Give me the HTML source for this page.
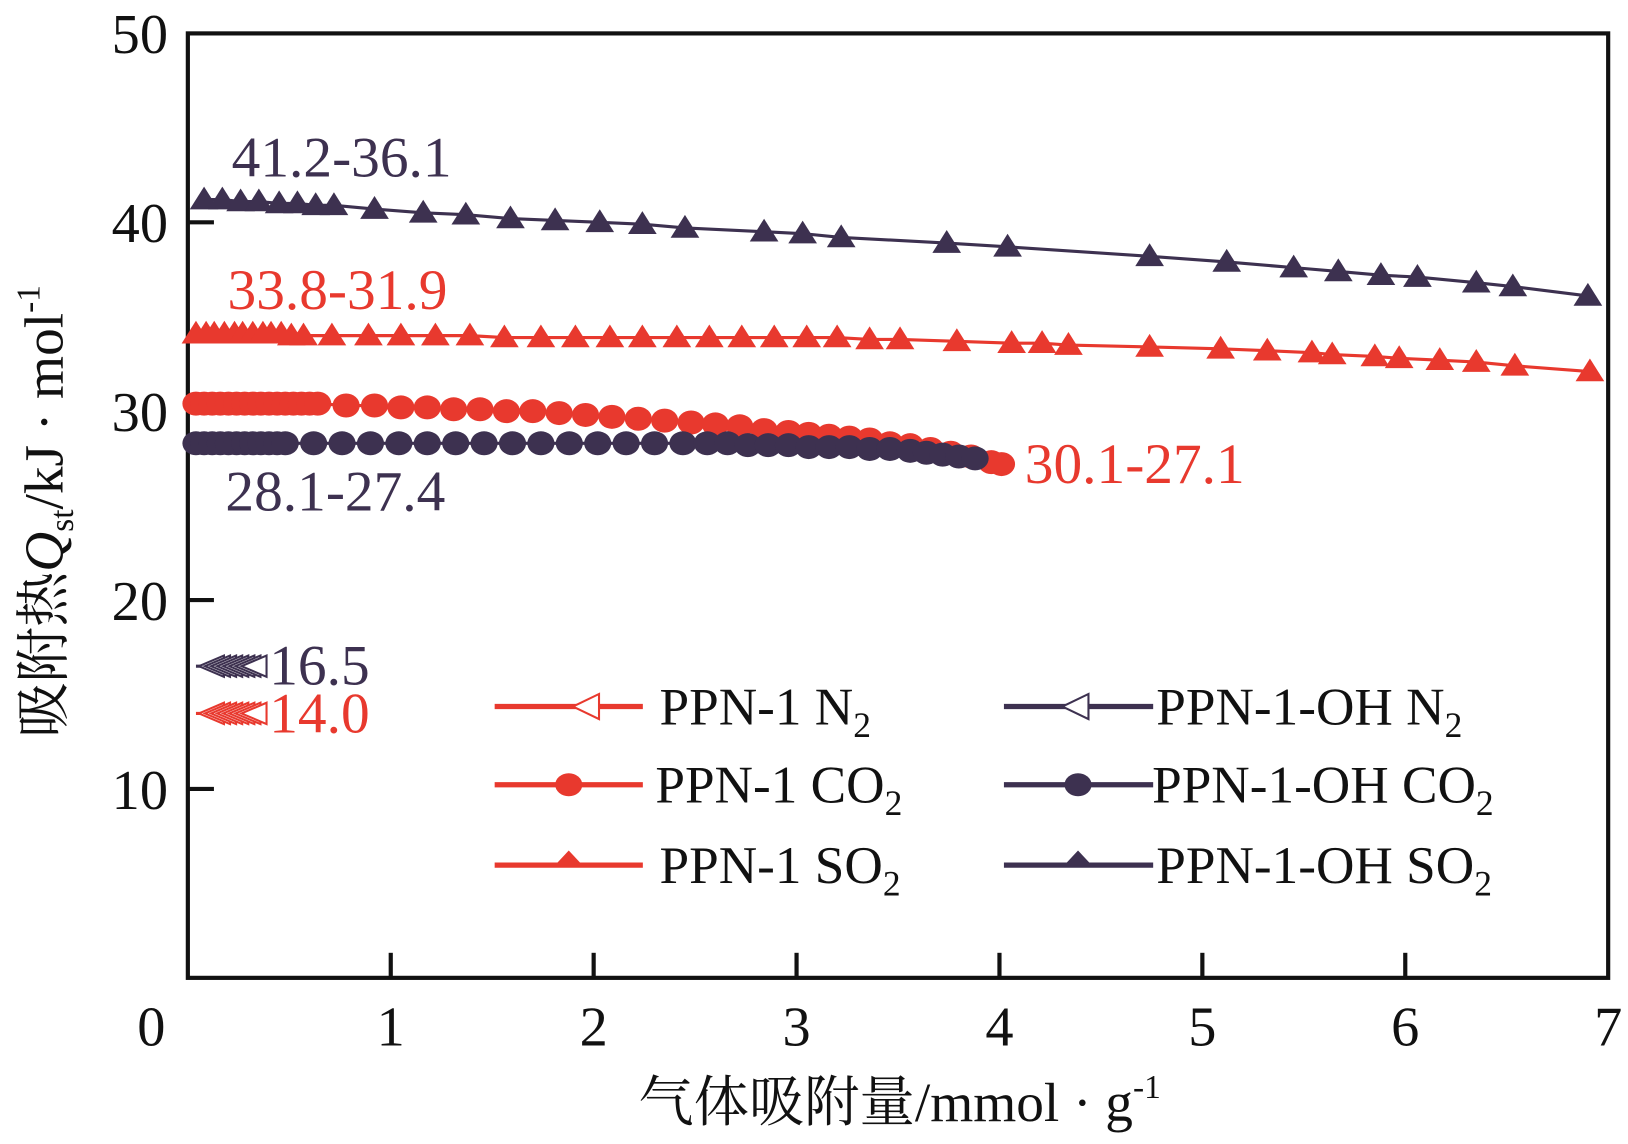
<!DOCTYPE html>
<html><head><meta charset="utf-8"><style>
html,body{margin:0;padding:0;background:#fff;}
svg{display:block;font-family:"Liberation Serif","Noto Serif CJK SC",serif;}
</style></head><body>
<svg id="chart" width="1628" height="1144" viewBox="0 0 1560 1096.2"></svg>
<script>
const xTicks=[0,1,2,3,4,5,6,7];
const yTicks=[10,20,30,40,50];
const so2OhX=[0.08,0.17,0.26,0.35,0.45,0.54,0.63,0.72,0.92,1.16,1.37,1.59,1.81,2.03,2.24,2.45,2.84,3.03,3.22,3.74,4.04,4.74,5.12,5.45,5.67,5.88,6.06,6.35,6.53,6.90];
const so2OhY=[41.2,41.2,41.1,41.1,41.0,41.0,40.9,40.9,40.7,40.5,40.4,40.2,40.1,40.0,39.9,39.7,39.5,39.4,39.2,38.9,38.7,38.2,37.9,37.6,37.4,37.2,37.1,36.8,36.6,36.1];
const so2X=[0.04,0.09,0.13,0.18,0.23,0.27,0.32,0.37,0.41,0.46,0.51,0.57,0.71,0.89,1.05,1.22,1.39,1.56,1.74,1.91,2.08,2.24,2.41,2.57,2.73,2.89,3.05,3.20,3.36,3.51,3.79,4.06,4.21,4.34,4.74,5.09,5.32,5.54,5.64,5.85,5.97,6.17,6.35,6.54,6.91];
const so2Y=[34.1,34.1,34.1,34.1,34.1,34.1,34.1,34.1,34.1,34.1,34.0,34.0,34.0,34.0,34.0,34.0,34.0,33.9,33.9,33.9,33.9,33.9,33.9,33.9,33.9,33.9,33.9,33.9,33.8,33.8,33.7,33.6,33.6,33.5,33.4,33.3,33.2,33.1,33.0,32.9,32.8,32.7,32.6,32.4,32.1];
const co2X=[0.04,0.08,0.12,0.16,0.20,0.24,0.28,0.32,0.36,0.40,0.44,0.48,0.52,0.56,0.60,0.64,0.78,0.92,1.05,1.18,1.31,1.44,1.57,1.70,1.83,1.96,2.09,2.22,2.35,2.48,2.60,2.72,2.84,2.96,3.06,3.16,3.26,3.36,3.46,3.56,3.66,3.76,3.86,3.96,4.01];
const co2Y=[30.4,30.4,30.4,30.4,30.4,30.4,30.4,30.4,30.4,30.4,30.4,30.4,30.4,30.4,30.4,30.4,30.3,30.3,30.2,30.2,30.1,30.1,30.0,30.0,29.9,29.8,29.7,29.6,29.5,29.4,29.3,29.2,29.0,28.9,28.8,28.7,28.6,28.5,28.3,28.2,28.0,27.8,27.6,27.3,27.2];
const co2OhX=[0.04,0.08,0.12,0.16,0.20,0.24,0.28,0.32,0.36,0.40,0.44,0.48,0.62,0.76,0.90,1.04,1.18,1.32,1.46,1.60,1.74,1.88,2.02,2.16,2.30,2.44,2.56,2.66,2.76,2.86,2.96,3.06,3.16,3.26,3.36,3.46,3.56,3.64,3.72,3.80,3.88];
const co2OhY=[28.3,28.3,28.3,28.3,28.3,28.3,28.3,28.3,28.3,28.3,28.3,28.3,28.3,28.3,28.3,28.3,28.3,28.3,28.3,28.3,28.3,28.3,28.3,28.3,28.3,28.3,28.3,28.3,28.2,28.2,28.2,28.1,28.1,28.1,28.0,28.0,27.9,27.8,27.7,27.6,27.5];
const n2X=[0.04,0.07,0.10,0.13,0.16,0.19,0.22,0.25];
const n2OhY=[16.5,16.5,16.5,16.5,16.5,16.5,16.5,16.5];
const n2Y=[14.0,14.0,14.0,14.0,14.0,14.0,14.0,14.0];

const RED='#e8392e',PUR='#3d3150';
const L=180,R=1541,T=32,B=937;
const sx=v=>L+(R-L)*v/7;
const sy=v=>B-(B-T)*v/50;
const svg=document.getElementById('chart');
const NS='http://www.w3.org/2000/svg';
function mk(tag,attrs,parent){const e=document.createElementNS(NS,tag);for(const k in attrs)e.setAttribute(k,attrs[k]);(parent||svg).appendChild(e);return e;}
function tri(x,y,s,up){
  if(up) return `${x},${y-s} ${x-s*1.1},${y+s*0.75} ${x+s*1.1},${y+s*0.75}`;
  return `${x-s*1.1},${y} ${x+s*0.9},${y-s*0.85} ${x+s*0.9},${y+s*0.85}`;
}
function series(name,xs,ys,color,kind){
  const g=mk('g',{});
  
  
  const pts=xs.map((x,i)=>sx(x)+','+sy(ys[i])).join(' ');
  const pl=mk('polyline',{points:pts,fill:'none',stroke:color,'stroke-width':3},g);
  
  
  xs.forEach((x,i)=>{
    const cx=sx(x),cy=sy(ys[i]);let m;
    if(kind==='circle') m=mk('ellipse',{cx:cx,cy:cy,rx:13,ry:11.5,fill:color},g);
    else if(kind==='up') m=mk('polygon',{points:tri(cx,cy,12.5,true),fill:color},g);
    else m=mk('polygon',{points:tri(cx+16,cy,12,false),fill:'#fff',stroke:color,'stroke-width':2},g);
    
    
  });
}
const fr=mk('rect',{x:L,y:T,width:R-L,height:B-T,fill:'none',stroke:'#111','stroke-width':4});


xTicks.forEach(t=>{
  if(t>0&&t<7){const l=mk('line',{x1:sx(t),x2:sx(t),y1:B,y2:B-24,stroke:'#111','stroke-width':4});
  
  }
  const tx=mk('text',{x:t===0?145:sx(t),y:1002,'font-size':54,'text-anchor':'middle',fill:'#111'});
  tx.textContent=t;
  
  
});
yTicks.forEach(t=>{
  if(t<50){const l=mk('line',{x1:L,x2:L+25,y1:sy(t),y2:sy(t),stroke:'#111','stroke-width':4});
  
  }
  const tx=mk('text',{x:161,y:sy(t)+19,'font-size':54,'text-anchor':'end',fill:'#111'});
  tx.textContent=t;
  
  
});
series('ppn1-oh-so2',so2OhX,so2OhY,PUR,'up');
series('ppn1-so2',so2X,so2Y,RED,'up');
series('ppn1-co2',co2X,co2Y,RED,'circle');
series('ppn1-oh-co2',co2OhX,co2OhY,PUR,'circle');
series('ppn1-oh-n2',n2X,n2OhY,PUR,'left');
series('ppn1-n2',n2X,n2Y,RED,'left');
</script>
<svg width="1628" height="1144" viewBox="0 0 1560 1096.2" style="position:absolute;left:0;top:0;font-family:'Liberation Serif','Noto Serif CJK SC',serif">
<g font-size="55">
<text x="222" y="169" fill="#3d3150">41.2-36.1</text>
<text x="218" y="296" fill="#e8392e">33.8-31.9</text>
<text x="216" y="489" fill="#3d3150">28.1-27.4</text>
<text x="982" y="463" fill="#e8392e">30.1-27.1</text>
<text x="258" y="656" fill="#3d3150">16.5</text>
<text x="258" y="702" fill="#e8392e">14.0</text>
</g>
<g font-size="51" fill="#111">
<g><line x1="474" x2="616" y1="677" y2="677" stroke="#e8392e" stroke-width="5"/><polygon points="549,677 574,665 574,689" fill="#fff" stroke="#e8392e" stroke-width="2"/><text x="632" y="694">PPN-1 N<tspan font-size="34" dy="12">2</tspan></text></g>
<g><line x1="474" x2="616" y1="752" y2="752" stroke="#e8392e" stroke-width="5"/><ellipse cx="545" cy="752" rx="13" ry="11" fill="#e8392e"/><text x="628" y="769">PPN-1 CO<tspan font-size="34" dy="12">2</tspan></text></g>
<g><line x1="474" x2="616" y1="829" y2="829" stroke="#e8392e" stroke-width="5"/><polygon points="545,815 530,831 560,831" fill="#e8392e"/><text x="632" y="846">PPN-1 SO<tspan font-size="34" dy="12">2</tspan></text></g>
<g><line x1="962" x2="1105" y1="677" y2="677" stroke="#3d3150" stroke-width="5"/><polygon points="1018,677 1043,665 1043,689" fill="#fff" stroke="#3d3150" stroke-width="2"/><text x="1108" y="694">PPN-1-OH N<tspan font-size="34" dy="12">2</tspan></text></g>
<g><line x1="962" x2="1105" y1="752" y2="752" stroke="#3d3150" stroke-width="5"/><ellipse cx="1033" cy="752" rx="13" ry="11" fill="#3d3150"/><text x="1104" y="769">PPN-1-OH CO<tspan font-size="34" dy="12">2</tspan></text></g>
<g><line x1="962" x2="1105" y1="829" y2="829" stroke="#3d3150" stroke-width="5"/><polygon points="1033,815 1018,831 1048,831" fill="#3d3150"/><text x="1108" y="846">PPN-1-OH SO<tspan font-size="34" dy="12">2</tspan></text></g>
</g>
<text x="862" y="1074" font-size="53" text-anchor="middle" fill="#111">气体吸附量/mmol · g<tspan font-size="32" dy="-22">-1</tspan></text>
<text transform="translate(60,490) rotate(-90)" font-size="53" text-anchor="middle" fill="#111">吸附热<tspan font-style="italic">Q</tspan><tspan font-size="32" dy="10">st</tspan><tspan dy="-10">/kJ · mol</tspan><tspan font-size="32" dy="-22">-1</tspan></text>
</svg>
</body></html>
